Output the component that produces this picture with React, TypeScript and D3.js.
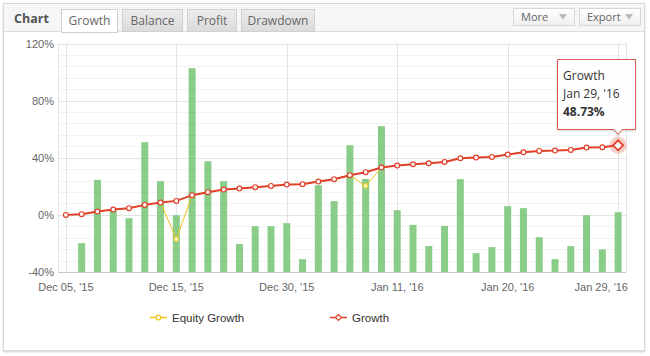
import React from "react";
import * as d3 from "d3";

const growth = [0, 0.5, 2.3, 3.7, 4.7, 7, 8.6, 9.8, 13.8, 15.9, 17.7, 18.4, 19.4, 20.3, 21.2, 21.5, 23.3, 25, 27.8, 29.9, 33.1, 34.5, 35.5, 36.2, 37.1, 39.7, 40.1, 40.6, 42.2, 43.9, 44.8, 45.0, 45.5, 47.1, 47.4, 48.73];
const equity = [0, 0.5, 2.3, 3.7, 4.7, 7, 8.6, -17, 13.8, 15.9, 17.7, 18.4, 19.4, 20.3, 21.2, 21.5, 23.3, 25, 27.8, 20.3, 33.1, 34.5, 35.5, 36.2, 37.1, 39.7, 40.1, 40.6, 42.2, 43.9, 44.8, 45.0, 45.5, 47.1, 47.4, 48.73];
const bars = [null, -19.8, 24.5, 2.8, -2.3, 50.9, 23.6, -0.2, 102.7, 37.6, 23.6, -20.4, -7.9, -7.9, -5.8, -31, 20.8, 9.6, 48.8, 25.2, 62.1, 3.3, -7, -21.8, -7.7, 25, -26.8, -22.6, 6.1, 4.7, -15.6, -31, -21.9, -0.2, -24.2, 1.9];
const tickIndices = [0, 7, 14, 21, 28, 35];
const tickLabels = ["Dec 05, '15", "Dec 15, '15", "Dec 30, '15", "Jan 11, '16", "Jan 20, '16", "Jan 29, '16"];
const yTicks = [-40, 0, 40, 80, 120];
const tabs = ["Growth", "Balance", "Profit", "Drawdown"];

const FONT = "'Liberation Sans', Arial, sans-serif";

export default function App() {
  const idx = growth.map((_, i) => i);
  const x = d3.scalePoint<number>().domain(idx).range([58, 626]).padding(0.5);
  const y = d3.scaleLinear().domain([-40, 120]).range([272, 43.5]);
  const line = d3.line<number>().x((_, i) => x(i)!).y((d) => y(d));
  const minorTicks = d3.range(-40, 121, 8).filter((v) => v % 40 !== 0);
  const last = growth.length - 1;
  const lx = x(last)!;
  const ly = y(growth[last]);

  const tabX = [61, 122, 187, 241];
  const tabW = [56, 60, 49, 73];

  return (
    <svg width={650} height={356} style={{ position: "absolute", left: 0, top: 0, background: "#fff" }}>
      <defs>
        <linearGradient id="tabg" x1="0" y1="0" x2="0" y2="1">
          <stop offset="0" stopColor="#ececec" />
          <stop offset="1" stopColor="#dadada" />
        </linearGradient>
        <linearGradient id="btng" x1="0" y1="0" x2="0" y2="1">
          <stop offset="0" stopColor="#ffffff" />
          <stop offset="1" stopColor="#efefef" />
        </linearGradient>
        <filter id="sh" x="-5%" y="-5%" width="110%" height="110%">
          <feDropShadow dx="0" dy="1" stdDeviation="1.2" floodColor="#000" floodOpacity="0.18" />
        </filter>
      </defs>
      {/* panel */}
      <rect x={3.5} y={3.5} width={641} height={347} fill="#fff" stroke="#d8d8d8" filter="url(#sh)" />
      <rect x={4} y={4} width={640} height={27} fill="#f6f6f6" />
      <line x1={4} x2={644} y1={31.5} y2={31.5} stroke="#dcdcdc" />
      <text x={14} y={23} fontFamily="'Open Sans', sans-serif" fontWeight="bold" fontSize={12.5} fill="#555">Chart</text>
      {tabs.map((t, i) => (
        <g key={t}>
          <rect x={tabX[i] + 0.5} y={9.5} width={tabW[i]} height={i === 0 ? 23 : 22} fill={i === 0 ? "#fff" : "url(#tabg)"} stroke="#d0d0d0" />
          {i === 0 && <line x1={tabX[i] + 1} x2={tabX[i] + tabW[i]} y1={31.5} y2={31.5} stroke="#fff" />}
          <text x={tabX[i] + tabW[i] / 2 + 0.5} y={24.5} textAnchor="middle" fontFamily="'Open Sans', sans-serif" fontSize={12} fill="#666">{t}</text>
        </g>
      ))}
      {[{ t: "More", x0: 513, w: 61 }, { t: "Export", x0: 579, w: 61 }].map((b) => (
        <g key={b.t}>
          <rect x={b.x0 + 0.5} y={8.5} width={b.w} height={17} fill="url(#btng)" stroke="#d8d8d8" />
          <text x={b.x0 + 8} y={21} fontFamily="'Open Sans', sans-serif" fontSize={11} fill="#666">{b.t}</text>
          <path d={`M${b.x0 + b.w - 15},14 h8 l-4,5.5 z`} fill="#bbb" />
        </g>
      ))}
      {/* grid */}
      {minorTicks.map((v) => (
        <line key={"m" + v} x1={58} x2={626} y1={Math.round(y(v)) + 0.5} y2={Math.round(y(v)) + 0.5} stroke="#f3f3f3" />
      ))}
      {yTicks.map((v) => (
        <line key={"g" + v} x1={58} x2={626} y1={Math.round(y(v)) + 0.5} y2={Math.round(y(v)) + 0.5} stroke={v === -40 ? "#c8c8c8" : "#e4e4e4"} />
      ))}
      {tickIndices.map((i) => (
        <line key={"v" + i} x1={Math.round(x(i)!) + 0.5} x2={Math.round(x(i)!) + 0.5} y1={43} y2={272} stroke="#e4e4e4" />
      ))}
      <line x1={58.5} x2={58.5} y1={43} y2={272} stroke="#e4e4e4" />
      <line x1={626.5} x2={626.5} y1={43} y2={272} stroke="#e4e4e4" />
      {/* bars */}
      {bars.map((v, i) =>
        v === null ? null : (
          <rect key={"b" + i} x={x(i)! - 3.5} y={y(v)} width={7} height={y(-40) - y(v)} fill="#7fc97f" opacity={0.92} />
        )
      )}
      {/* equity line */}
      <path d={line(equity) || ""} fill="none" stroke="#f0c419" strokeWidth={1} />
      {equity.map((v, i) =>
        v !== growth[i] ? <circle key={"e" + i} cx={x(i)!} cy={y(v)} r={2.3} fill="#fff6c0" stroke="#f0c419" strokeWidth={1} /> : null
      )}
      {/* growth line */}
      <path d={line(growth) || ""} fill="none" stroke="#e0402a" strokeWidth={2} />
      {growth.map((v, i) =>
        i === last ? null : <circle key={"g" + i} cx={x(i)!} cy={y(v)} r={2.4} fill="#fff" stroke="#e0402a" strokeWidth={1.2} />
      )}
      <circle cx={lx} cy={ly} r={8.5} fill="#e8412c" opacity={0.25} />
      <path d={`M${lx},${ly - 5} L${lx + 5},${ly} L${lx},${ly + 5} L${lx - 5},${ly} Z`} fill="#fff" stroke="#e0402a" strokeWidth={1.8} />
      {/* y labels */}
      {yTicks.map((v) => (
        <text key={"yl" + v} x={54} y={y(v) + 4} textAnchor="end" fontFamily={FONT} fontSize={11} fill="#666">{v + "%"}</text>
      ))}
      {tickIndices.map((i, k) => {
        const isLast = k === tickIndices.length - 1;
        return (
          <text key={"xl" + i} x={isLast ? 628 : x(i)!} y={291} textAnchor={isLast ? "end" : "middle"} fontFamily={FONT} fontSize={11} fill="#666">{tickLabels[k]}</text>
        );
      })}
      {/* legend */}
      <line x1={150} x2={167} y1={317.5} y2={317.5} stroke="#f0c419" strokeWidth={1.5} />
      <circle cx={158.5} cy={317.5} r={2.3} fill="#fff" stroke="#f0c419" strokeWidth={1.2} />
      <text x={172} y={321.5} fontFamily={FONT} fontSize={11.5} fill="#333">Equity Growth</text>
      <line x1={330} x2={347} y1={317.5} y2={317.5} stroke="#e0402a" strokeWidth={1.5} />
      <path d={`M338.5,314.5 L341.5,317.5 L338.5,320.5 L335.5,317.5 Z`} fill="#fff" stroke="#e0402a" strokeWidth={1.2} />
      <text x={352} y={321.5} fontFamily={FONT} fontSize={11.5} fill="#333">Growth</text>
      {/* tooltip */}
      <path
        d={`M557.5,59.5 H635.5 V129.5 H${lx + 4} L${lx},134.5 L${lx - 4},129.5 H557.5 Z`}
        fill="#fff"
        fillOpacity={0.95}
        stroke="#e05a4e"
        strokeWidth={1}
        filter="url(#sh)"
      />
      <text x={563} y={80} fontFamily="'Open Sans', sans-serif" fontSize={12} fill="#333">Growth</text>
      <text x={563} y={98} fontFamily="'Open Sans', sans-serif" fontSize={12} fill="#333">Jan 29, '16</text>
      <text x={563} y={116} fontFamily="'Open Sans', sans-serif" fontSize={12} fontWeight="bold" fill="#333">48.73%</text>
    </svg>
  );
}
